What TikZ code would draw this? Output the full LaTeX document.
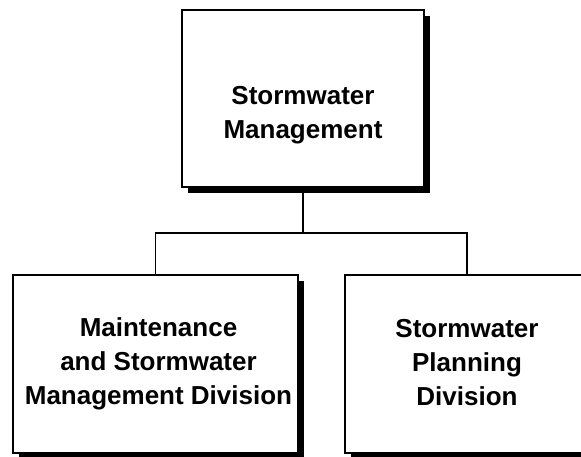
\documentclass[tikz,border=0pt]{standalone}
\usepackage{fontspec}
\setmainfont{Liberation Sans}
\usetikzlibrary{shadows}
\tikzset{
  orgbox/.style={draw,fill=white,line width=1.8pt,inner sep=0pt,
    drop shadow={shadow xshift=6pt,shadow yshift=-6pt,opacity=1,fill=black}},
  orgtext/.style={align=center,inner sep=0pt,font=\bfseries\fontsize{26}{34}\selectfont},
  orgline/.style={line width=1.3pt}
}

\begin{document}
\begin{tikzpicture}[x=1pt,y=-1pt]
  \clip (0,0) rectangle (581,456);
  % boxes, in pixel coordinates of the chart
  \node[orgbox,minimum width=242pt,minimum height=177pt] (mgmt) at (303,98.5) {};
  \node[orgbox,minimum width=285pt,minimum height=178pt] (maint) at (155.5,364) {};
  \node[orgbox,minimum width=244pt,minimum height=178pt] (plan) at (467,364) {};
  \node[orgtext] (mgmttext) at ([yshift=-17pt]mgmt.center) {Stormwater\\Management};
  \node[orgtext] (mainttext) at ([xshift=3pt]maint.center) {Maintenance\\and Stormwater\\Management Division};
  \node[orgtext] (plantext) at ([yshift=1pt]plan.center) {Stormwater\\Planning\\Division};
  % connectors
  \coordinate (bus) at (303,233);
  \draw[orgline] (mgmt.south) -- (bus);
  \draw[orgline] (maint.north) |- (bus) -| (plan.north);
\end{tikzpicture}
\end{document}
